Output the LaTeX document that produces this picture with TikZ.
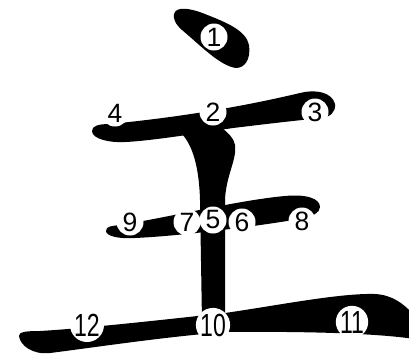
\documentclass[tikz,border=0pt]{standalone}
\usepackage{fontspec}
\setmainfont{Liberation Sans}
\tikzset{
  brush/.style={fill=black, draw=none},
  lbl/.style={circle, fill=white, draw=none, inner sep=0pt, minimum size=27pt,
    font=\fontsize{26.5}{26.5}\selectfont},
  lblw/.style={circle, fill=white, draw=none, inner sep=0pt, minimum size=30pt,
    font=\fontsize{32}{32}\selectfont},
}
\newcommand{\narrow}[1]{\scalebox{0.72}[1]{#1}}
\begin{document}
\begin{tikzpicture}[x=1pt,y=-1pt]
\useasboundingbox (0,0) rectangle (409,357);
\clip (0,0) rectangle (409,357);
% dot stroke
\path[brush] (174,14) .. controls (176,6) and (190,8) .. (205,14)
  .. controls (225,22) and (246,30) .. (249,45)
  .. controls (251,59) and (245,68) .. (236,68)
  .. controls (220,66) and (200,45) .. (182,30)
  .. controls (175,24) and (173,18) .. (174,14) -- cycle;
% top horizontal stroke
\path[brush] (92,131) .. controls (92,126) and (98,124) .. (110,124)
  .. controls (150,120) and (220,112) .. (300,93)
  .. controls (315,89) and (332,92) .. (335,104)
  .. controls (336,112) and (330,117) .. (322,118)
  .. controls (290,121) and (250,126) .. (233,128)
  .. controls (200,133) and (150,141) .. (125,142)
  .. controls (110,143) and (92,139) .. (92,131) -- cycle;
% vertical stroke
\path[brush] (182,134) .. controls (192,145) and (199,165) .. (200,200)
  -- (202,322) -- (225,322) -- (225,200)
  .. controls (226,175) and (237,160) .. (235,145)
  .. controls (234,138) and (228,133) .. (222,128) -- cycle;
% middle horizontal stroke
\path[brush] (106,231) .. controls (106,226) and (112,226) .. (120,225)
  .. controls (170,217) and (240,200) .. (285,196)
  .. controls (305,194) and (320,198) .. (320,207)
  .. controls (320,213) and (312,216) .. (305,218)
  .. controls (260,226) and (180,236) .. (135,238)
  .. controls (118,239) and (106,236) .. (106,231) -- cycle;
% bottom horizontal stroke
\path[brush] (19,336) .. controls (19,332) and (25,331) .. (40,331)
  .. controls (90,328) and (170,319) .. (225,313)
  .. controls (280,305) and (340,293) .. (375,294)
  .. controls (392,295) and (403,303) .. (414,315)
  -- (414,339)
  .. controls (390,335) and (330,331) .. (227,332)
  .. controls (170,336) and (90,348) .. (50,353)
  .. controls (32,355) and (20,345) .. (19,336) -- cycle;
% labels
\node[lbl] (n1) at (214,37) {1};
\node[lbl] (n2) at (213,112) {2};
\node[lbl] (n3) at (315,112) {3};
\node[lbl] (n4) at (115,113) {4};
\node[lbl] (n5) at (213,220) {5};
\node[lbl] (n6) at (242,222) {6};
\node[lbl] (n7) at (187,222) {7};
\node[lbl] (n8) at (302,221) {8};
\node[lbl] (n9) at (130,222) {9};
\node[lblw] (n10) at (213,325) {\narrow{10}};
\node[lblw] (n11) at (352,322) {\narrow{11}};
\node[lblw] (n12) at (87,325) {\narrow{12}};
\end{tikzpicture}
\end{document}
